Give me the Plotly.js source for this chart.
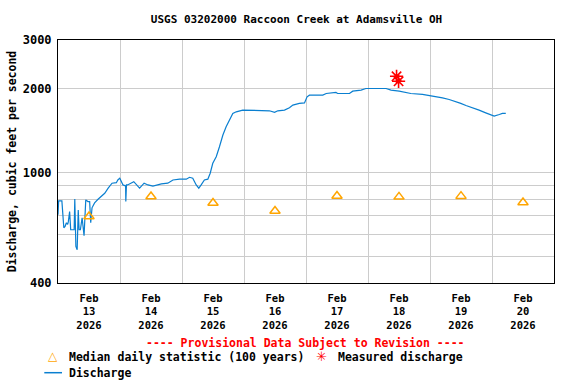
<!DOCTYPE html>
<html>
<head>
<meta charset="utf-8">
<script src="https://cdn.plot.ly/plotly-3.0.1.min.js"></script>
<style>html,body{margin:0;padding:0;background:#fff;}#chart{width:576px;height:384px;}</style>
</head>
<body>
<div id="chart"></div>
<script>
// ---- Data ----
const dischargeTime = [
  '2026-02-13 00:00','2026-02-13 00:15','2026-02-13 00:45','2026-02-13 01:30','2026-02-13 02:15','2026-02-13 02:45',
  '2026-02-13 03:15','2026-02-13 03:45','2026-02-13 04:00','2026-02-13 04:30','2026-02-13 04:55','2026-02-13 05:30',
  '2026-02-13 06:15','2026-02-13 06:30','2026-02-13 06:55','2026-02-13 07:25','2026-02-13 07:50','2026-02-13 08:10',
  '2026-02-13 08:40','2026-02-13 09:20','2026-02-13 10:05','2026-02-13 10:45','2026-02-13 11:35','2026-02-13 12:15',
  '2026-02-13 12:40','2026-02-13 13:10','2026-02-13 14:10','2026-02-13 15:30','2026-02-13 16:50','2026-02-13 18:05',
  '2026-02-13 19:25','2026-02-13 20:55','2026-02-13 22:35','2026-02-13 23:10','2026-02-13 23:55',
  '2026-02-14 01:10','2026-02-14 02:10','2026-02-14 02:15','2026-02-14 02:30','2026-02-14 02:55','2026-02-14 05:20',
  '2026-02-14 06:20','2026-02-14 07:35','2026-02-14 09:20','2026-02-14 10:50','2026-02-14 12:45','2026-02-14 16:00',
  '2026-02-14 18:30','2026-02-14 20:30','2026-02-14 23:05',
  '2026-02-15 01:40','2026-02-15 02:55','2026-02-15 04:10','2026-02-15 05:30','2026-02-15 06:30','2026-02-15 07:25',
  '2026-02-15 08:40','2026-02-15 10:00','2026-02-15 10:55','2026-02-15 11:55','2026-02-15 13:15','2026-02-15 14:30',
  '2026-02-15 15:50','2026-02-15 17:05','2026-02-15 18:25','2026-02-15 19:40','2026-02-15 21:00','2026-02-15 23:30',
  '2026-02-16 09:50','2026-02-16 11:50','2026-02-16 13:05','2026-02-16 15:40','2026-02-16 17:35','2026-02-16 18:55',
  '2026-02-16 21:25','2026-02-16 23:25',
  '2026-02-17 00:25','2026-02-17 01:20','2026-02-17 06:30','2026-02-17 07:50','2026-02-17 11:35','2026-02-17 12:15',
  '2026-02-17 16:50','2026-02-17 18:05','2026-02-17 21:20','2026-02-17 23:10',
  '2026-02-18 07:00','2026-02-18 08:55','2026-02-18 12:05','2026-02-18 14:40','2026-02-18 16:35','2026-02-18 21:05',
  '2026-02-18 23:00',
  '2026-02-19 02:20','2026-02-19 04:50','2026-02-19 07:25','2026-02-19 10:00','2026-02-19 11:55','2026-02-19 13:55',
  '2026-02-19 16:25','2026-02-19 19:00','2026-02-19 21:35','2026-02-19 23:30',
  '2026-02-20 00:50','2026-02-20 02:50','2026-02-20 04:00','2026-02-20 05:20'
];
const dischargeCfs = [
  704,790,790,790,632,640,
  659,650,665,723,622,622,
  622,803,542,527,733,622,
  622,687,592,797,786,786,
  659,746,777,801,824,842,
  878,915,919,940,954,
  902,895,786,902,902,927,
  902,878,915,902,894,910,
  915,940,946,
  946,961,954,902,878,902,
  940,946,994,1079,1140,1238,
  1364,1461,1544,1632,1654,1677,
  1668,1646,1668,1677,1710,1748,
  1773,1781,
  1872,1899,1899,1925,1942,1925,
  1925,1963,1979,2007,
  2007,1979,1963,1942,1925,1912,
  1899,
  1879,1857,1832,1802,1773,1743,
  1715,1677,1640,1609,
  1596,1618,1632,1632
];
const medianTime = ['2026-02-13 12:00','2026-02-14 12:00','2026-02-15 12:00','2026-02-16 12:00',
                    '2026-02-17 12:00','2026-02-18 12:00','2026-02-19 12:00','2026-02-20 12:00'];
const medianCfs = [694, 820, 777, 727, 823, 817, 822, 780];
const measuredTime = ['2026-02-18 11:03','2026-02-18 11:50'];
const measuredCfs = [2220, 2130];
const yTickVals = [400,500,600,700,800,900,1000,2000,3000];
const yTickText = ['400','','','','','','1000','2000','3000'];

// ---- Styling ----
const FONT = '"DejaVu Sans Mono", "Liberation Mono", monospace';
const bold = (size, color) => ({family: FONT, size: size, color: color || '#000', weight: 'bold'});
const L = 58, R = 22, T = 40, B = 101, W = 576, H = 384;
const pw = W - L - R, ph = H - T - B;
const px = x => (x - L) / pw;
const py = y => (H - B - y) / ph;

const traces = [
  {x: dischargeTime, y: dischargeCfs, type: 'scatter', mode: 'lines', name: 'Discharge',
   line: {color: '#0a7fd0', width: 1.2}, hoverinfo: 'x+y'},
  {x: medianTime, y: medianCfs, type: 'scatter', mode: 'markers', name: 'Median daily statistic (100 years)',
   marker: {symbol: 'triangle-up-open', size: 9, color: '#ffa500', line: {color: '#ffa500', width: 1.5}}},
  {x: measuredTime, y: measuredCfs, type: 'scatter', mode: 'markers', name: 'Measured discharge',
   marker: {symbol: 'asterisk-open', size: 11, color: '#ff0000', line: {color: '#ff0000', width: 1.6}}}
];

const layout = {
  width: W, height: H,
  margin: {l: L, r: R, t: T, b: B, pad: 0},
  paper_bgcolor: '#fff', plot_bgcolor: '#fff',
  showlegend: false,
  title: {text: 'USGS 03202000 Raccoon Creek at Adamsville OH', font: bold(11),
          x: 277 / W, xanchor: 'center', xref: 'paper', y: 1 - 19 / H, yanchor: 'middle', yref: 'container'},
  xaxis: {
    type: 'date', range: ['2026-02-13 00:00', '2026-02-21 00:00'],
    tick0: '2026-02-13', dtick: 86400000, ticklabelmode: 'period',
    tickformat: '%b<br>%d<br>%Y', tickfont: bold(10.5), ticklabelstandoff: 5,
    showgrid: true, gridcolor: '#cccccc', gridwidth: 1,
    showline: true, linecolor: '#000', linewidth: 1, mirror: true,
    ticks: '', zeroline: false, fixedrange: true
  },
  yaxis: {
    type: 'log', range: [Math.log10(400), Math.log10(3000)],
    tickmode: 'array', tickvals: yTickVals, ticktext: yTickText, tickfont: bold(12), ticklabelstandoff: 3,
    showgrid: true, gridcolor: '#cccccc', gridwidth: 1,
    showline: true, linecolor: '#000', linewidth: 1, mirror: true,
    ticks: '', zeroline: false, fixedrange: true,
    title: {text: 'Discharge, cubic feet per second', font: bold(11.5), standoff: 3}
  },
  annotations: [
    {text: '---- Provisional Data Subject to Revision ----', xref: 'paper', yref: 'paper',
     x: px(305), y: py(342.7), xanchor: 'center', yanchor: 'middle', showarrow: false, font: bold(11.5, '#ff0000')},
    {text: '△', xref: 'paper', yref: 'paper', x: px(53.3), y: py(356), xanchor: 'center', yanchor: 'middle',
     showarrow: false, font: {family: 'DejaVu Sans', size: 12, color: '#ffa500'}},
    {text: 'Median daily statistic (100 years)', xref: 'paper', yref: 'paper', x: px(66.5), y: py(356.7),
     xanchor: 'left', yanchor: 'middle', showarrow: false, font: bold(11.5)},
    {text: '✳', xref: 'paper', yref: 'paper', x: px(321.7), y: py(356.5), xanchor: 'center', yanchor: 'middle',
     showarrow: false, font: {family: 'DejaVu Sans', size: 13, color: '#ff0000'}},
    {text: 'Measured discharge', xref: 'paper', yref: 'paper', x: px(335.5), y: py(356.7),
     xanchor: 'left', yanchor: 'middle', showarrow: false, font: bold(11.5)},
    {text: 'Discharge', xref: 'paper', yref: 'paper', x: px(66.5), y: py(372.7),
     xanchor: 'left', yanchor: 'middle', showarrow: false, font: bold(11.5)}
  ],
  shapes: [
    {type: 'line', xref: 'paper', yref: 'paper', x0: px(44.3), x1: px(62), y0: py(372.7), y1: py(372.7),
     line: {color: '#0a7fd0', width: 1.5}}
  ]
};

Plotly.newPlot('chart', traces, layout, {staticPlot: true, displayModeBar: false});
</script>
</body>
</html>
